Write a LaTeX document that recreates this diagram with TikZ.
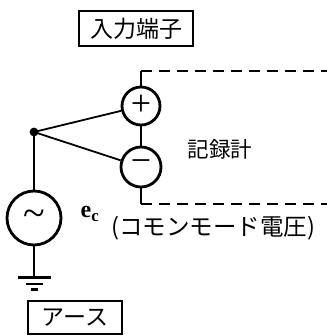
\documentclass[tikz,border=0pt]{standalone}
\usepackage{fontspec}
\newfontfamily\cjk{Noto Sans CJK JP}
\setmainfont{Liberation Serif}
\tikzset{
  wire/.style={line width=1.8pt,black},
  dash line/.style={line width=1.9pt,black,dash pattern=on 11pt off 7pt},
  term/.style={circle,draw,line width=2.8pt,minimum size=38pt,inner sep=0pt},
  labelbox/.style={draw,line width=2.4pt,inner sep=0pt,font=\cjk},
  txt/.style={inner sep=0pt,font=\cjk}
}
\begin{document}
\begin{tikzpicture}[x=1pt,y=-1pt]
\useasboundingbox (0,0) rectangle (327,336);
\node[labelbox,minimum width=114pt,minimum height=35pt,font=\cjk\fontsize{23}{23}\selectfont] (inbox) at (136,28.5) {入力端子};
\node[term] (plus) at (141,106) {\fontsize{36}{36}\selectfont\raisebox{1pt}{+}};
\node[term,minimum size=40pt] (minus) at (141,167) {\fontsize{36}{36}\selectfont\raisebox{1pt}{−}};
\node[term,minimum size=54pt] (src) at (34,218) {\fontsize{40}{40}\selectfont\textasciitilde};
\coordinate (junc) at (34,132);
\coordinate (tl) at (141,71);
\coordinate (tr) at (327,71);
\coordinate (bl) at (141,204);
\coordinate (br) at (327,204);
\coordinate (gnd) at (34,277);
\fill (junc) circle (4.4pt);
\draw[wire] (junc) -- (plus);
\draw[wire] (junc) -- (minus);
\draw[wire] (junc) -- (src);
\draw[wire] (src) -- (gnd);
\draw[wire] (plus) -- (minus);
\draw[wire] (plus) -- (tl);
\draw[wire] (minus) -- (bl);
\draw[dash line] (tl) -- (tr);
\draw[dash line] (bl) -- (br);
\draw[line width=2.4pt] (18,277.5) -- (51,277.5);
\draw[line width=2.4pt] (26,284) -- (43,284);
\draw[line width=2.4pt] (31,289.5) -- (38,289.5);
\node[txt,font=\cjk\fontsize{21.5}{22}\selectfont] (rec) at (220,149) {記録計};
\node[inner sep=0pt,font=\bfseries\fontsize{24}{24}\selectfont] (ec) at (90,214) {e$_{\mathbf{c}}$};
\node[txt,font=\cjk\fontsize{23.5}{24}\selectfont] (cm) at (213,228) {(コモンモード電圧)};
\node[labelbox,minimum width=94pt,minimum height=33pt,font=\cjk\fontsize{23}{23}\selectfont] (earth) at (75,317.5) {アース};
\end{tikzpicture}
\end{document}
